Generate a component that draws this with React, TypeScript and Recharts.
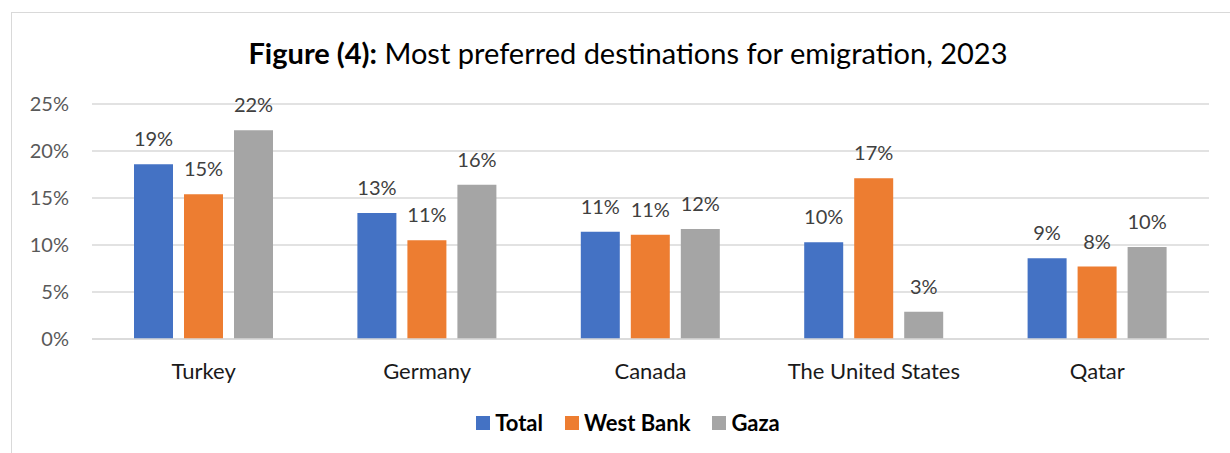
import { BarChart, Bar, XAxis, YAxis, CartesianGrid, LabelList } from 'recharts'

const destinations = ['Turkey', 'Germany', 'Canada', 'The United States', 'Qatar']
const totalValues = [18.6, 13.4, 11.4, 10.3, 8.6]
const westBankValues = [15.4, 10.5, 11.1, 17.1, 7.7]
const gazaValues = [22.2, 16.4, 11.7, 2.9, 9.8]
const yTicks = [0, 5, 10, 15, 20, 25]

const series = [
  { key: 'total', name: 'Total', color: '#4472C4' },
  { key: 'westBank', name: 'West Bank', color: '#ED7D31' },
  { key: 'gaza', name: 'Gaza', color: '#A5A5A5' },
]

const data = destinations.map((name, i) => ({
  name,
  total: totalValues[i],
  westBank: westBankValues[i],
  gaza: gazaValues[i],
}))

const font = 'Lato, "Open Sans", sans-serif'

export default function App() {
  return (
    <div
      style={{
        position: 'absolute',
        left: 0,
        top: 0,
        width: 1230,
        height: 453,
        overflow: 'hidden',
        background: '#fff',
        fontFamily: font,
      }}
    >
      {/* chart frame */}
      <div
        style={{
          position: 'absolute',
          left: 11,
          top: 12,
          width: 1240,
          height: 460,
          border: '1px solid #d9d9d9',
          boxSizing: 'border-box',
        }}
      />
      <div
        style={{
          position: 'absolute',
          left: 11,
          width: 1234,
          top: 35,
          textAlign: 'center',
          fontSize: 29,
          color: '#000',
          whiteSpace: 'nowrap',
        }}
      >
        <b>Figure (4):</b> Most preferred destinations for emigration, 2023
      </div>

      <div style={{ position: 'absolute', left: 0, top: 0 }}>
        <BarChart
          width={1230}
          height={453}
          data={data}
          margin={{ top: 104, right: 21, bottom: 0, left: 0 }}
          barSize={39}
          barGap={11}
        >
          <CartesianGrid vertical={false} stroke="#d9d9d9" strokeWidth={1.3} />
          <XAxis
            dataKey="name"
            height={114}
            tickLine={false}
            tickSize={0}
            tickMargin={24}
            axisLine={{ stroke: '#d9d9d9', strokeWidth: 1.3 }}
            tick={{ fill: '#1a1a1a', fontSize: 22, fontFamily: font }}
            interval={0}
          />
          <YAxis
            width={92}
            domain={[0, 25]}
            ticks={yTicks}
            tickFormatter={(v: number) => `${v}%`}
            axisLine={false}
            tickLine={false}
            tickSize={0}
            tickMargin={23}
            tick={{ fill: '#595959', fontSize: 20, fontFamily: font }}
          />
          {series.map((s) => (
            <Bar key={s.key} dataKey={s.key} name={s.name} fill={s.color} isAnimationActive={false}>
              <LabelList
                dataKey={s.key}
                position="top"
                offset={18}
                formatter={(v: any) => `${Math.round(Number(v))}%`}
                style={{ fill: '#404040', fontSize: 20, fontFamily: font }}
              />
            </Bar>
          ))}
        </BarChart>
      </div>

      {/* legend */}
      <div
        style={{
          position: 'absolute',
          left: 11,
          width: 1234,
          top: 409,
          display: 'flex',
          justifyContent: 'center',
          alignItems: 'center',
          gap: 22,
        }}
      >
        {series.map((s) => (
          <div key={s.key} style={{ display: 'flex', alignItems: 'center' }}>
            <span style={{ display: 'inline-block', width: 14, height: 14, background: s.color, marginRight: 5 }} />
            <span style={{ fontWeight: 700, fontSize: 22, color: '#000' }}>{s.name}</span>
          </div>
        ))}
      </div>
    </div>
  )
}
